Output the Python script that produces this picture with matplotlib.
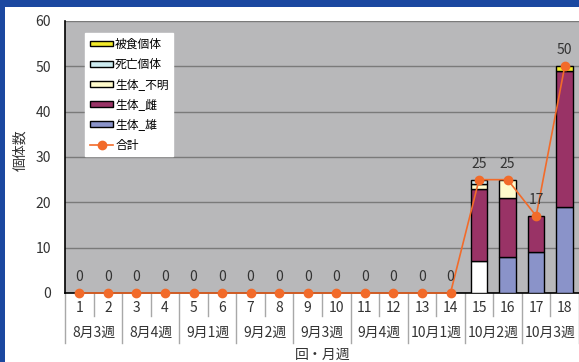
import matplotlib
matplotlib.use("Agg")
import matplotlib.pyplot as plt
from matplotlib.patches import Rectangle, Patch
from matplotlib.lines import Line2D
import numpy as np

plt.rcParams['font.family'] = ['Noto Sans CJK JP', 'DejaVu Sans']

# --- data ---------------------------------------------------------------
rounds = [str(i) for i in range(1, 19)]
weeks = ['8月3週', '8月4週', '9月1週', '9月2週', '9月3週',
         '9月4週', '10月1週', '10月2週', '10月3週']
male    = [0]*14 + [7, 8, 9, 19]
female  = [0]*14 + [16, 13, 8, 30]
unknown = [0]*14 + [1, 4, 0, 0]
dead    = [0]*14 + [1, 0, 0, 0]
eaten   = [0]*14 + [0, 0, 0, 1]
total = [m + f + u + d + e for m, f, u, d, e in zip(male, female, unknown, dead, eaten)]

series_names = ['生体_雄', '生体_雌', '生体_不明', '死亡個体', '被食個体']
series_colors = ['#8A93C9', '#993366', '#FFFBCC', '#CDEBF0', '#F2EA2A']
male_colors = ['#8A93C9']*14 + ['#FFFFFF', '#8A93C9', '#8A93C9', '#8A93C9']
line_color = '#F26B2A'
text_color = '#333333'

# --- figure ---------------------------------------------------------------
W, H = 579, 362
fig = plt.figure(figsize=(W/100, H/100), dpi=100)
fig.patch.set_facecolor('white')

# blue window frame along top and left edges
fig.add_artist(Rectangle((0, 1 - 7/H), 1, 7/H, transform=fig.transFigure,
                         facecolor='#1B48A0', edgecolor='none', zorder=0))
fig.add_artist(Rectangle((0, 0), 5/W, 1, transform=fig.transFigure,
                         facecolor='#1B48A0', edgecolor='none', zorder=0))

ax_l, ax_r, ax_t, ax_b = 65, 579, 21, 293
ax = fig.add_axes([ax_l/W, 1 - ax_b/H, (ax_r-ax_l)/W, (ax_b-ax_t)/H])
ax.set_facecolor('#B8B8BA')

x = np.arange(1, 19)
bw = 0.58
bottoms = np.zeros(18)
stack = [male, female, unknown, dead, eaten]
for i, (vals, name, col) in enumerate(zip(stack, series_names, series_colors)):
    vals = np.array(vals, dtype=float)
    mask = vals > 0
    colors = np.array(male_colors, dtype=object)[mask] if i == 0 else col
    ax.bar(x[mask], vals[mask], bw, bottom=bottoms[mask], color=colors,
           edgecolor='black', linewidth=1.0, zorder=3)
    bottoms += vals

ax.plot(x, total, color=line_color, lw=1.2, marker='o', ms=6,
        markeredgecolor=line_color, zorder=5, clip_on=False)
for xi, t in zip(x, total):
    ax.annotate(str(t), (xi, t), xytext=(0, 11.5), textcoords='offset points',
                ha='center', va='center', fontsize=10, color=text_color, zorder=6)

ax.set_xlim(0.5, 18.5)
ax.set_ylim(0, 60)
ax.set_yticks(range(0, 61, 10))
ax.yaxis.grid(True, color='#7A7A7A', lw=1.0, zorder=1)
ax.set_axisbelow(True)
ax.tick_params(axis='y', length=0, labelsize=10, labelcolor=text_color, pad=10)
ax.set_xticks([])
for s in ['top', 'right']:
    ax.spines[s].set_visible(False)
ax.spines['left'].set_color('black')
ax.spines['bottom'].set_color('black')
ax.spines['left'].set_linewidth(1.2)
ax.spines['bottom'].set_linewidth(1.2)

# multi-level category axis
ph = ax_b - ax_t
trans = ax.get_xaxis_transform()
for xi, r in zip(x, rounds):
    ax.text(xi, -15/ph, r, transform=trans, ha='center', va='center',
            fontsize=10, color=text_color)
for gi, wk in enumerate(weeks):
    ax.text(2*gi + 1.5, -40/ph, wk, transform=trans, ha='center', va='center',
            fontsize=10, color=text_color)
for b in np.arange(0.5, 19, 1.0):
    is_group = (b - 0.5) % 2 == 0
    y1 = -50/ph if is_group else -23/ph
    ax.add_line(Line2D([b, b], [0, y1], transform=trans, color='#A8A8A8',
                       lw=1.0, clip_on=False))

fig.text(20/W, 1 - 150/H, '個体数', rotation=90, ha='center', va='center',
         fontsize=10, color=text_color)
fig.text(323/W, 1 - 355/H, '回・月週', ha='center', va='center',
         fontsize=10, color=text_color)

# legend (top entry = top of stack)
handles = [Patch(facecolor=c, edgecolor='black', lw=1.0)
           for c in series_colors[::-1]]
handles.append(Line2D([], [], color=line_color, lw=1.2, marker='o', ms=6))
labels = series_names[::-1] + ['合計']
leg = ax.legend(handles, labels, loc='upper left',
                bbox_to_anchor=((85-ax_l)/(ax_r-ax_l), (ax_b-33)/ph),
                fontsize=8.5, frameon=True, fancybox=False, framealpha=1,
                edgecolor='white', facecolor='white', handlelength=2.0,
                handleheight=0.4, labelspacing=0.61, handletextpad=0.15,
                borderpad=0.4, borderaxespad=0)
leg.set_zorder(10)

fig.savefig('out.png', dpi=100)
